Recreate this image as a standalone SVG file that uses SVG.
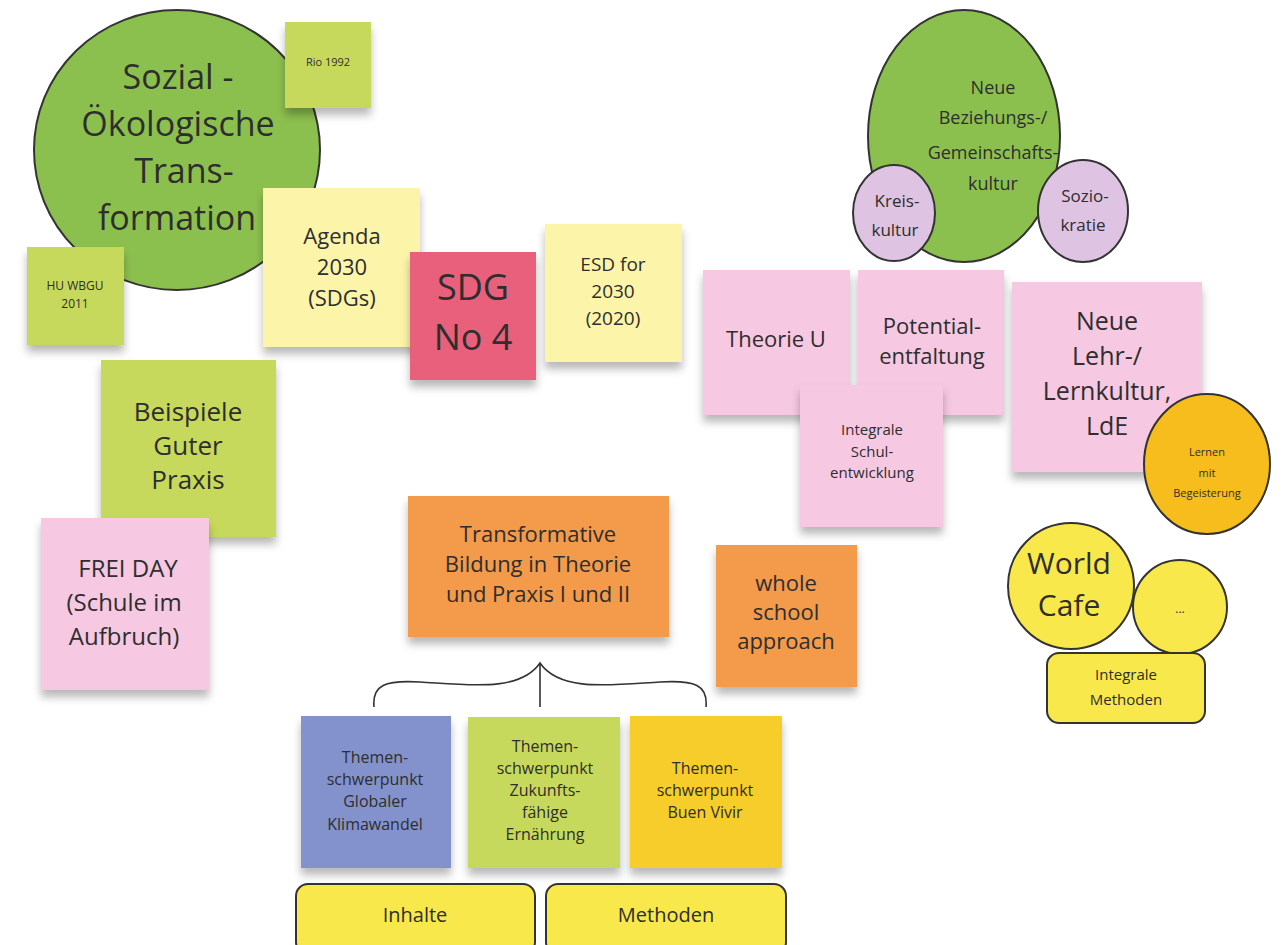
<svg xmlns="http://www.w3.org/2000/svg" width="1284" height="945" viewBox="0 0 1284 945">
<defs>
<filter id="sh" x="-20%" y="-20%" width="140%" height="150%">
<feDropShadow dx="0" dy="7" stdDeviation="4" flood-color="#000" flood-opacity="0.28"/>
</filter>
<style>
text{font-family:"Open Sans","Noto Sans","DejaVu Sans",sans-serif;fill:#2e2e2e;text-anchor:middle}
.note{filter:url(#sh)}
.ln{stroke:#333;stroke-width:2}
.lime{fill:#c7d95c}
.yel{fill:#fbf4a9}
.pink{fill:#f6c8e1}
.org{fill:#f39a4c}
</style>
</defs>
<rect width="1284" height="945" fill="#fff"/>

<g id="sozial">
<ellipse cx="177" cy="150" rx="143" ry="140" fill="#8cc04e" class="ln"/>
<text font-size="34"><tspan x="178" y="89">Sozial -</tspan><tspan x="178" y="136">Ökologische</tspan><tspan x="184" y="183">Trans-</tspan><tspan x="177" y="230">formation</tspan></text>
</g>
<g id="rio"><rect x="285" y="22" width="86" height="86" class="lime note"/><text x="328" y="66" font-size="11">Rio 1992</text></g>
<g id="wbgu"><rect x="27" y="247" width="97" height="98" class="lime note"/><text font-size="12"><tspan x="75" y="290">HU WBGU</tspan><tspan x="75" y="308">2011</tspan></text></g>
<g id="agenda"><rect x="263" y="188" width="157" height="159" class="yel note"/><text font-size="22"><tspan x="342" y="244">Agenda</tspan><tspan x="342" y="275">2030</tspan><tspan x="342" y="306">(SDGs)</tspan></text></g>
<g id="sdg4"><rect x="410" y="252" width="126" height="128" fill="#e8607b" class="note"/><text font-size="36"><tspan x="473" y="300">SDG</tspan><tspan x="473" y="350">No 4</tspan></text></g>
<g id="esd"><rect x="545" y="224" width="137" height="138" class="yel note"/><text font-size="19"><tspan x="613" y="271">ESD for</tspan><tspan x="613" y="298">2030</tspan><tspan x="613" y="325">(2020)</tspan></text></g>

<g id="beispiele"><rect x="101" y="360" width="175" height="177" class="lime note"/><text font-size="26"><tspan x="188" y="421">Beispiele</tspan><tspan x="188" y="455">Guter</tspan><tspan x="188" y="489">Praxis</tspan></text></g>
<g id="freiday"><rect x="41" y="518" width="168" height="172" class="pink note"/><text font-size="24"><tspan x="128" y="577">FREI DAY</tspan><tspan x="124" y="611">(Schule im</tspan><tspan x="124" y="645">Aufbruch)</tspan></text></g>

<g id="beziehung">
<ellipse cx="964" cy="136" rx="96" ry="126" fill="#8cc04e" class="ln"/>
<text font-size="18"><tspan x="993" y="94">Neue</tspan><tspan x="993" y="124">Beziehungs-/</tspan><tspan x="993" y="159">Gemeinschafts-</tspan><tspan x="993" y="190">kultur</tspan></text>
</g>
<g id="kreiskultur"><ellipse cx="894" cy="213" rx="41" ry="48" fill="#dfc3e2" class="ln"/><text font-size="17"><tspan x="897" y="207">Kreis-</tspan><tspan x="895" y="236">kultur</tspan></text></g>
<g id="soziokratie"><ellipse cx="1083" cy="211" rx="45" ry="51" fill="#dfc3e2" class="ln"/><text font-size="17"><tspan x="1085" y="202">Sozio-</tspan><tspan x="1083" y="231">kratie</tspan></text></g>

<g id="theorieu"><rect x="703" y="270" width="147" height="145" class="pink note"/><text x="776" y="347" font-size="22">Theorie U</text></g>
<g id="potential"><rect x="858" y="270" width="146" height="145" class="pink note"/><text font-size="22"><tspan x="932" y="334">Potential-</tspan><tspan x="932" y="364">entfaltung</tspan></text></g>
<g id="lehrkultur"><rect x="1012" y="282" width="190" height="190" class="pink note"/><text font-size="25"><tspan x="1107" y="330">Neue</tspan><tspan x="1107" y="365">Lehr-/</tspan><tspan x="1107" y="400">Lernkultur,</tspan><tspan x="1107" y="435">LdE</tspan></text></g>
<g id="schulentwicklung"><rect x="800" y="385" width="143" height="142" class="pink note"/><text font-size="15"><tspan x="872" y="435">Integrale</tspan><tspan x="872" y="457">Schul-</tspan><tspan x="872" y="478">entwicklung</tspan></text></g>
<g id="lernen"><ellipse cx="1207" cy="464" rx="63" ry="70" fill="#f6bd1c" class="ln"/><text font-size="11"><tspan x="1207" y="456">Lernen</tspan><tspan x="1207" y="477">mit</tspan><tspan x="1207" y="497">Begeisterung</tspan></text></g>

<g id="worldcafe"><circle cx="1071" cy="586" r="63" fill="#f8e84c" class="ln"/><text font-size="30"><tspan x="1069" y="574">World</tspan><tspan x="1069" y="616">Cafe</tspan></text></g>
<g id="dots"><circle cx="1180" cy="607" r="47" fill="#f8e84c" class="ln"/><text x="1180" y="613" font-size="12">...</text></g>
<g id="integralemethoden"><rect x="1047" y="653" width="158" height="70" rx="12" fill="#f8e84c" class="ln"/><text font-size="15"><tspan x="1126" y="680">Integrale</tspan><tspan x="1126" y="705">Methoden</tspan></text></g>

<g id="whole"><rect x="716" y="545" width="141" height="142" class="org note"/><text font-size="22"><tspan x="786" y="591">whole</tspan><tspan x="786" y="620">school</tspan><tspan x="786" y="649">approach</tspan></text></g>
<g id="transformative"><rect x="408" y="496" width="261" height="141" class="org note"/><text font-size="22"><tspan x="538" y="542">Transformative</tspan><tspan x="538" y="572">Bildung in Theorie</tspan><tspan x="538" y="602">und Praxis I und II</tspan></text></g>

<g id="connectors">
<path d="M374,707 C372,685 385,680 420,682 C470,685 520,692 540,663 C560,692 610,685 660,682 C695,680 708,685 706,707 M540,663 L540,707" fill="none" stroke="#333" stroke-width="1.6"/>
</g>

<g id="klima"><rect x="301" y="716" width="150" height="152" fill="#8392cd" class="note"/><text font-size="16"><tspan x="375" y="763">Themen-</tspan><tspan x="375" y="785">schwerpunkt</tspan><tspan x="375" y="807">Globaler</tspan><tspan x="375" y="830">Klimawandel</tspan></text></g>
<g id="ernaehrung"><rect x="468" y="717" width="152" height="151" class="lime note"/><text font-size="16"><tspan x="545" y="752">Themen-</tspan><tspan x="545" y="774">schwerpunkt</tspan><tspan x="545" y="796">Zukunfts-</tspan><tspan x="545" y="818">fähige</tspan><tspan x="545" y="840">Ernährung</tspan></text></g>
<g id="buenvivir"><rect x="630" y="716" width="152" height="152" fill="#f6cd2b" class="note"/><text font-size="16"><tspan x="705" y="774">Themen-</tspan><tspan x="705" y="796">schwerpunkt</tspan><tspan x="705" y="818">Buen Vivir</tspan></text></g>

<g id="inhalte"><rect x="296" y="884" width="239" height="70" rx="12" fill="#f8e84c" class="ln"/><text x="415" y="922" font-size="20">Inhalte</text></g>
<g id="methoden"><rect x="546" y="884" width="240" height="70" rx="12" fill="#f8e84c" class="ln"/><text x="666" y="922" font-size="20">Methoden</text></g>
</svg>
